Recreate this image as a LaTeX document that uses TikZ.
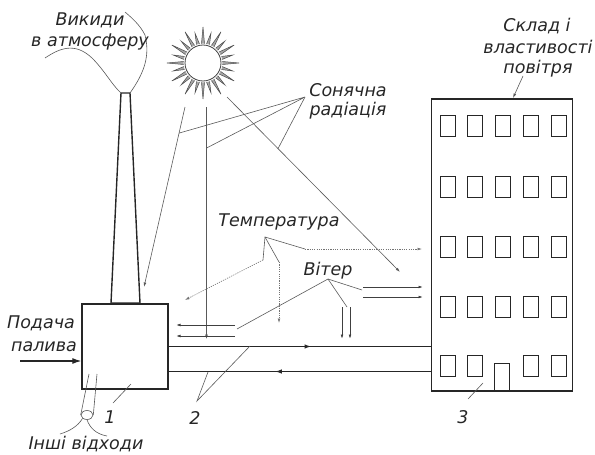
\documentclass[tikz,border=0pt]{standalone}
\usepackage{fontspec}
\setmainfont{DejaVu Sans}
\usetikzlibrary{arrows.meta,calc,decorations.markings,shapes.geometric}

\begin{document}
\begin{tikzpicture}[x=1pt,y=-1pt,
  heavy/.style={line width=1.4pt, draw=black!85},
  thin/.style={line width=0.6pt, draw=black!65},
  windline/.style={line width=0.8pt, draw=black!75},
  dotline/.style={line width=0.6pt, draw=black!55, dash pattern=on 1.2pt off 1.1pt},
  lbl/.style={font=\fontsize{17.5}{17.5}\selectfont\itshape, text=black!85, inner sep=0pt, anchor=base},
  smalltip/.style={-{Latex[length=4.5pt,width=2.8pt]}},
  bigtip/.style={-{Latex[length=9pt,width=6pt]}},
  windowbox/.style={heavy, line width=1.1pt, rectangle, minimum width=15pt, minimum height=20.5pt, inner sep=0pt, anchor=north west},
  flowmark/.style={postaction={decorate}, decoration={markings, mark=at position #1 with {\arrow{Latex[length=7pt,width=4.5pt]}}}}
]
\useasboundingbox (0,0) rectangle (595,455);

% ---------- furnace, chimney, building ----------
\node[heavy, draw, rectangle, minimum width=86pt, minimum height=85pt, inner sep=0pt] (furnace) at (125,346.5) {};
\draw[heavy] (111,303) -- (121,93) -- (130,93) -- (140,303) -- cycle;
\coordinate (chimL) at (121,93);
\coordinate (chimR) at (130,93);

\node[heavy, draw, rectangle, minimum width=141pt, minimum height=292pt, inner sep=0pt] (building) at (502,245) {};
\foreach \r/\y in {0/115,1/176,2/236,3/296} {
  \foreach \c in {0,...,4} {
    \node[windowbox, draw] (w\r\c) at ({439.5+27.8*\c},\y) {};
  }
}
\foreach \c in {0,1,3,4} {
  \node[windowbox, draw] (w4\c) at ({439.5+27.8*\c},355) {};
}
\node[heavy, line width=1.1pt, draw, rectangle, minimum width=14.6pt, minimum height=27pt, inner sep=0pt, anchor=south] (door) at (502,391) {};

% ---------- pipes between furnace and building ----------
\draw[heavy, flowmark=0.545] (furnace.east) -- (furnace.east -| building.west);
\draw[heavy, flowmark=0.595] ([yshift=-25pt]furnace.east -| building.west) -- ([yshift=-25pt]furnace.east);

% ---------- sun ----------
\node[circle, draw=black!75, line width=0.8pt, minimum size=36pt, inner sep=0pt] (sun) at (203,63) {};
\begin{scope}[shift={(sun.center)}]
  \foreach \a [count=\i] in {0,15,...,345} {
    \pgfmathsetmacro{\len}{mod(\i,2)==0 ? 31 : 36}
    \draw[draw=black!70, fill=black!35, line width=0.5pt]
      ({\a-4.5}:19.5) -- (\a:\len) -- ({\a+4.5}:19.5);
  }
\end{scope}

% solar rays
\coordinate (r1s) at (185,107);   \coordinate (r1e) at (144,287);
\coordinate (r2s) at (206.5,107); \coordinate (r2e) at (206.5,339);
\coordinate (r3s) at (227,97);    \coordinate (r3e) at (400,272);
\draw[thin, smalltip] (r1s) -- (r1e);
\draw[thin, smalltip] (r2s) -- (r2e);
\draw[thin, smalltip] (r3s) -- (r3e);

\coordinate (solhub) at (305,97);
\draw[thin] ($(r1s)!0.145!(r1e)$) -- (solhub) -- ($(r2s)!0.177!(r2e)$);
\draw[thin] (solhub) -- ($(r3s)!0.295!(r3e)$);

% ---------- temperature ----------
\coordinate (thub) at (265,237);
\coordinate (t1) at (305,249); \coordinate (t1e) at (422,249);
\coordinate (t2) at (263,260); \coordinate (t2e) at (185,300);
\coordinate (t3) at (279,262); \coordinate (t3e) at (279,323);
\draw[thin] (t1) -- (thub) -- (t2);
\draw[thin] (thub) -- (t3);
\draw[dotline, smalltip] (t1) -- (t1e);
\draw[dotline, smalltip] (t2) -- (t2e);
\draw[dotline, smalltip] (t3) -- (t3e);

% ---------- wind ----------
\coordinate (whub) at (328,279);
\coordinate (wl1) at (235,325);   \coordinate (wl1e) at (176,325);
\coordinate (wl2) at (235,336);   \coordinate (wl2e) at (176,336);
\coordinate (wd1) at (342,307);   \coordinate (wd1e) at (342,339);
\coordinate (wd2) at (350,307);   \coordinate (wd2e) at (350,339);
\coordinate (wr1) at (363,287);   \coordinate (wr1e) at (423,287);
\coordinate (wr2) at (363,297);   \coordinate (wr2e) at (423,297);
\foreach \s in {wl1,wl2,wd1,wd2,wr1,wr2} {
  \draw[windline, smalltip] (\s) -- (\s e);
}
\draw[thin] (237,329) -- (whub) -- (347,307);
\draw[thin] (whub) -- (362,290);

% ---------- emissions plume ----------
\draw[thin] (45,58) .. controls (60,48) and (75,42) .. (92,58)
            .. controls (105,71) and (112,85) .. (chimL);
\draw[thin] (chimR) .. controls (145,72) and (150,55) .. (145,35)
            .. controls (140,25) and (132,18) .. (125,12);

% ---------- fuel supply ----------
\coordinate (fuel) at (20,361);
\draw[line width=1.1pt, draw=black!85, bigtip] (fuel) -- (fuel -| furnace.west);

% ---------- other waste ----------
\node[ellipse, draw=black!65, line width=0.6pt, minimum width=12pt, minimum height=9pt, inner sep=0pt] (waste) at (87,415) {};
\draw[thin] (89,374) -- (waste.west);
\draw[thin] (97,374) -- (waste.east);
\draw[thin] (waste.south west) .. controls (78,426) and (70,431) .. (60,434);
\draw[thin] (waste.south) .. controls (90,428) and (96,434) .. (107,436);

% ---------- labels ----------
\node[lbl] (emis1) at (90,25) {Викиди};
\node[lbl] (emis2) at (90,46.5) {в атмосферу};
\node[lbl] (solar1) at (348,96.5) {Сонячна};
\node[lbl] (solar2) at (348,115) {радіація};
\node[lbl] (air1) at (537,31.5) {Склад і};
\node[lbl] (air2) at (538,53) {властивості};
\node[lbl] (air3) at (538,73) {повітря};
\node[lbl] (temp) at (279,226.5) {Температура};
\node[lbl] (wind) at (328,275) {Вітер};
\node[lbl] (fuel1) at (41,328) {Подача};
\node[lbl] (fuel2) at (44,351.5) {палива};
\node[lbl] (n1) at (110,423) {1};
\node[lbl] (n2) at (195,424) {2};
\node[lbl] (n3) at (463,423) {3};
\node[lbl] (waste1) at (86,449) {Інші відходи};

% label leaders
\coordinate (airptr) at (513,98);
\draw[thin, smalltip] (523,76) -- (airptr);
\draw[thin] (113,403) -- (131,384);
\draw[thin] (208,372) -- (197,401) -- (250,346);
\draw[thin] (468,399) -- (483,383);
\end{tikzpicture}
\end{document}
